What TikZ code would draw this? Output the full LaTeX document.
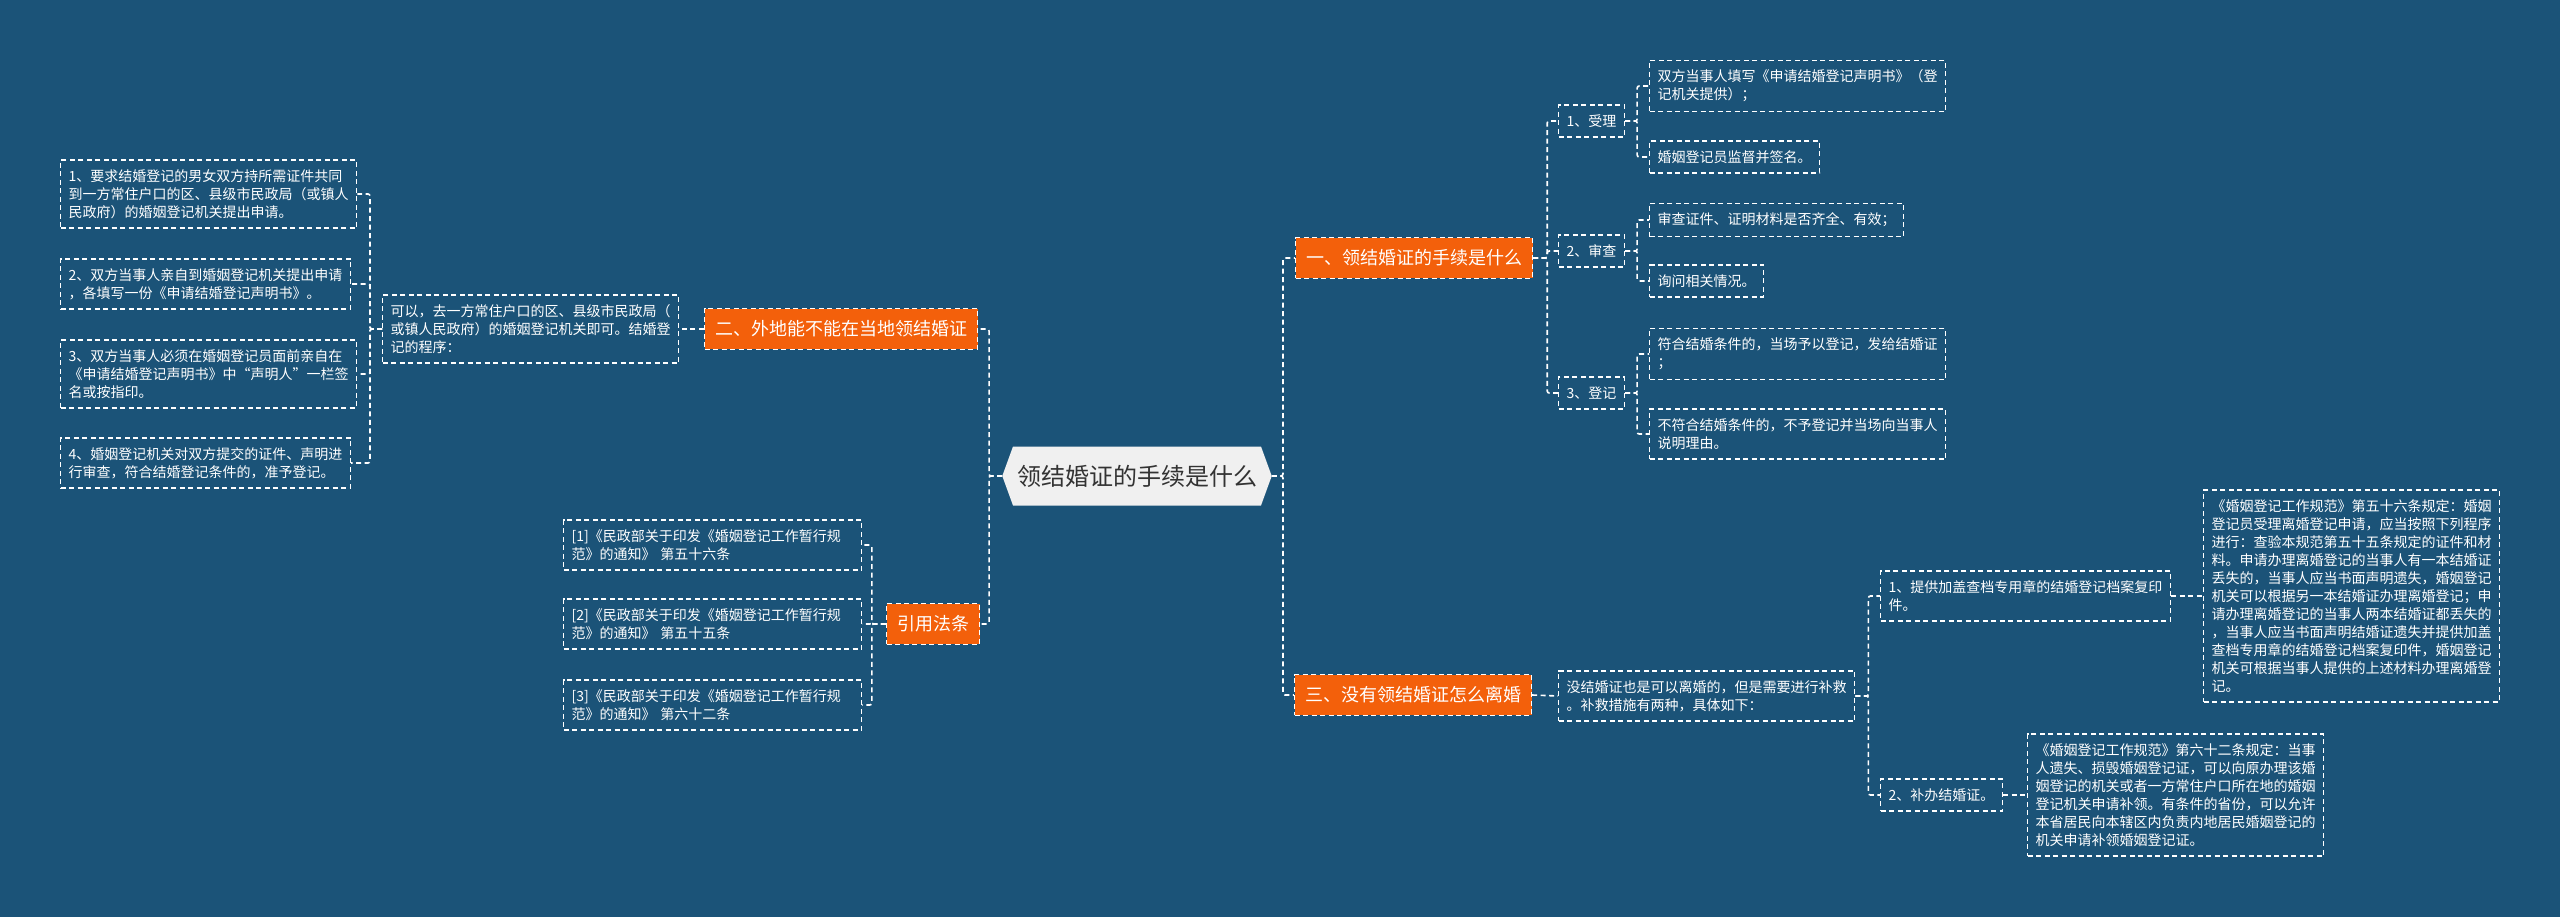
\documentclass[tikz,border=0pt]{standalone}
\usepackage{fontspec}
\setmainfont{Noto Sans CJK SC}
\usetikzlibrary{shapes.symbols}
\definecolor{mapblue}{HTML}{1B5378}
\definecolor{maporange}{HTML}{F3600B}
\definecolor{rootgray}{HTML}{F0F0F0}
\definecolor{roottext}{HTML}{333333}

\begin{document}
\begin{tikzpicture}[x=1pt,y=-1pt]
\tikzset{
  link/.style={draw=white,line width=1.6pt,dash pattern=on 5pt off 3.5pt,
    rounded corners=2pt},
  box/.style={draw=white,line width=1.4pt,dash pattern=on 5pt off 3.5pt,
    text=white,align=left,inner xsep=8pt,inner ysep=9.5pt,
    font=\fontsize{14}{18}\selectfont},
  leaf/.style={box,anchor=west},
  cite/.style={leaf,text width=282pt},
  branch/.style={box,fill=maporange,inner xsep=10.5pt,inner ysep=12pt,
    font=\fontsize{18}{22}\selectfont},
  topic/.style={shape=signal,signal to=east and west,signal pointer angle=140,
    fill=rootgray,text=roottext,minimum height=59pt,inner xsep=4pt,
    font=\fontsize{24}{28}\selectfont}
}
\fill[mapblue] (0,0) rectangle (2560,917);
\useasboundingbox (0,0) rectangle (2560,917);

\node[topic] (root) at (1137,476) {领结婚证的手续是什么};

\node[branch] (b2) at (841,329) {二、外地能不能在当地领结婚证};
\node[leaf] (b2d) at (382,329)
  {可以，去一方常住户口的区、县级市民政局（\\或镇人民政府）的婚姻登记机关即可。结婚登\\记的程序：};
\node[leaf] (l1) at (60,194)
  {1、要求结婚登记的男女双方持所需证件共同\\到一方常住户口的区、县级市民政局（或镇人\\民政府）的婚姻登记机关提出申请。};
\node[leaf] (l2) at (60,284)
  {2、双方当事人亲自到婚姻登记机关提出申请\\，各填写一份《申请结婚登记声明书》。};
\node[leaf] (l3) at (60,374)
  {3、双方当事人必须在婚姻登记员面前亲自在\\《申请结婚登记声明书》中“声明人”一栏签\\名或按指印。};
\node[leaf] (l4) at (60,463)
  {4、婚姻登记机关对双方提交的证件、声明进\\行审查，符合结婚登记条件的，准予登记。};

\node[branch] (b4) at (933,624) {引用法条};
\node[cite] (c1) at (563,545) {[1]《民政部关于印发《婚姻登记工作暂行规\\范》的通知》 第五十六条};
\node[cite] (c2) at (563,624) {[2]《民政部关于印发《婚姻登记工作暂行规\\范》的通知》 第五十五条};
\node[cite] (c3) at (563,705) {[3]《民政部关于印发《婚姻登记工作暂行规\\范》的通知》 第六十二条};

\node[branch] (b1) at (1414,258) {一、领结婚证的手续是什么};
\node[leaf] (s1) at (1558,121) {1、受理};
\node[leaf] (s2) at (1558,251) {2、审查};
\node[leaf] (s3) at (1558,393) {3、登记};
\node[leaf] (a1) at (1649,86) {双方当事人填写《申请结婚登记声明书》（登\\记机关提供）；};
\node[leaf] (a2) at (1649,157) {婚姻登记员监督并签名。};
\node[leaf] (a3) at (1649,220) {审查证件、证明材料是否齐全、有效；};
\node[leaf] (a4) at (1649,281) {询问相关情况。};
\node[leaf] (a5) at (1649,354) {符合结婚条件的，当场予以登记，发给结婚证\\；};
\node[leaf] (a6) at (1649,434) {不符合结婚条件的，不予登记并当场向当事人\\说明理由。};

\node[branch] (b3) at (1413,695) {三、没有领结婚证怎么离婚};
\node[leaf] (b3d) at (1558,696) {没结婚证也是可以离婚的，但是需要进行补救\\。补救措施有两种，具体如下：};
\node[leaf] (r1) at (1880,596) {1、提供加盖查档专用章的结婚登记档案复印\\件。};
\node[leaf] (r1d) at (2203,596)
  {《婚姻登记工作规范》第五十六条规定：婚姻\\登记员受理离婚登记申请，应当按照下列程序\\进行：查验本规范第五十五条规定的证件和材\\料。申请办理离婚登记的当事人有一本结婚证\\丢失的，当事人应当书面声明遗失，婚姻登记\\机关可以根据另一本结婚证办理离婚登记；申\\请办理离婚登记的当事人两本结婚证都丢失的\\，当事人应当书面声明结婚证遗失并提供加盖\\查档专用章的结婚登记档案复印件，婚姻登记\\机关可根据当事人提供的上述材料办理离婚登\\记。};
\node[leaf] (r2) at (1880,795) {2、补办结婚证。};
\node[leaf] (r2d) at (2027,795)
  {《婚姻登记工作规范》第六十二条规定：当事\\人遗失、损毁婚姻登记证，可以向原办理该婚\\姻登记的机关或者一方常住户口所在地的婚姻\\登记机关申请补领。有条件的省份，可以允许\\本省居民向本辖区内负责内地居民婚姻登记的\\机关申请补领婚姻登记证。};

\draw[link] (root.west) -- ++(-13,0) |- (b2.east);
\draw[link] (root.west) -- ++(-13,0) |- (b4.east);
\draw[link] (b2.west) -- (b2d.east);
\draw[link] (b2d.west) -- ++(-12,0) |- (l1.east);
\draw[link] (b2d.west) -- ++(-12,0) |- (l2.east);
\draw[link] (b2d.west) -- ++(-12,0) |- (l3.east);
\draw[link] (b2d.west) -- ++(-12,0) |- (l4.east);
\draw[link] (b4.west) -- ++(-14,0) |- (c1.east);
\draw[link] (b4.west) -- ++(-14,0) |- (c2.east);
\draw[link] (b4.west) -- ++(-14,0) |- (c3.east);

\draw[link] (root.east) -- ++(11,0) |- (b1.west);
\draw[link] (root.east) -- ++(11,0) |- (b3.west);
\draw[link] (b1.east) -- ++(14,0) |- (s1.west);
\draw[link] (b1.east) -- ++(14,0) |- (s2.west);
\draw[link] (b1.east) -- ++(14,0) |- (s3.west);
\draw[link] (s1.east) -- ++(12,0) |- (a1.west);
\draw[link] (s1.east) -- ++(12,0) |- (a2.west);
\draw[link] (s2.east) -- ++(12,0) |- (a3.west);
\draw[link] (s2.east) -- ++(12,0) |- (a4.west);
\draw[link] (s3.east) -- ++(12,0) |- (a5.west);
\draw[link] (s3.east) -- ++(12,0) |- (a6.west);
\draw[link] (b3.east) -- (b3d.west);
\draw[link] (b3d.east) -- ++(13,0) |- (r1.west);
\draw[link] (b3d.east) -- ++(13,0) |- (r2.west);
\draw[link] (r1.east) -- (r1d.west);
\draw[link] (r2.east) -- (r2d.west);
\end{tikzpicture}
\end{document}
